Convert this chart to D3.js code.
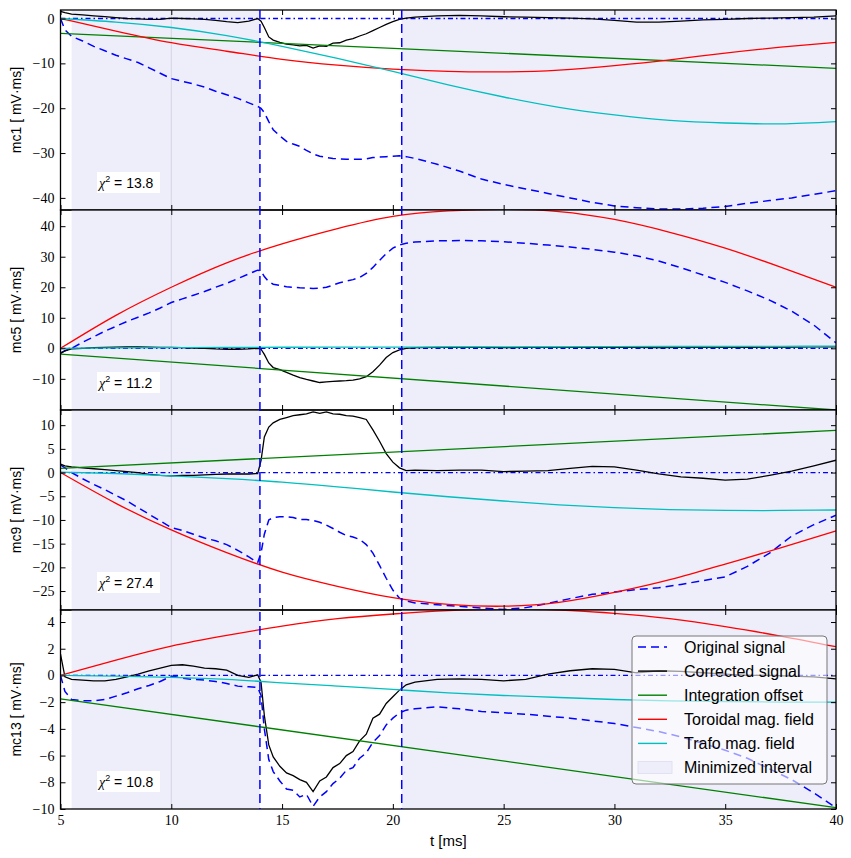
<!DOCTYPE html>
<html><head><meta charset="utf-8">
<script src="https://cdn.jsdelivr.net/npm/d3@7"></script>
<style>
html,body{margin:0;padding:0;background:#fff;}
svg{display:block;}
</style></head>
<body>
<svg id="chart" width="851" height="858"></svg>
<script>
// ---------------- DATA ----------------
const tSig = [5,5.2,5.5,6,6.5,7,7.5,8,8.5,9,9.5,10,10.5,11,11.5,12,12.5,13,13.5,13.9,14.05,14.2,14.4,14.6,14.9,15.2,15.5,15.8,16.1,16.4,16.7,17.0,17.3,17.6,17.9,18.2,18.5,18.8,19.1,19.4,19.7,20.0,20.3,20.6,21,22,23,24,25,26,27,28,29,30,31,32,33,34,35,36,37,38,39,40];
const tSmooth = [5,7.5,10,12.5,15,17.5,20,22.5,25,27.5,30,32.5,35,37.5,40];
const tOffset = [5,40];
const xTicks = [5,10,15,20,25,30,35,40];
const intervals = [[5.5,14.0],[20.4,40]];
const cutLines = [14.0,20.4];
const gridT = 10;

const mc1Orig = [0,-2.5,-4.0,-5.0,-6.2,-7.2,-8.2,-9.0,-9.8,-11.0,-12.2,-13.4,-14.0,-14.6,-15.3,-16.2,-17.0,-17.8,-18.8,-19.6,-20.0,-21.0,-23.0,-24.8,-26.2,-27.4,-28.0,-28.5,-29.4,-30.2,-30.7,-31.0,-31.2,-31.3,-31.4,-31.4,-31.4,-31.3,-31.0,-30.9,-30.8,-30.7,-30.6,-30.8,-31.2,-32.5,-34.0,-35.8,-37.0,-38.0,-39.0,-40.0,-41.0,-41.8,-42.2,-42.5,-42.5,-42.3,-41.9,-41.2,-40.6,-40.0,-39.2,-38.4];
const mc1Corr = [1.6,1.3,1.0,0.8,0.6,0.4,0.2,0.0,-0.1,-0.2,-0.2,0.1,0.0,-0.1,-0.2,-0.4,-0.7,-0.9,-0.6,0.0,-0.6,-2.0,-4.1,-4.8,-5.3,-5.7,-5.9,-6.1,-6.0,-6.6,-6.1,-6.2,-5.5,-5.4,-4.8,-4.5,-3.9,-3.4,-2.7,-2.0,-1.3,-0.7,-0.2,0.1,0.3,0.6,0.7,0.6,0.4,0.3,0.2,0.1,-0.1,-0.4,-0.8,-0.8,-0.6,-0.3,-0.2,0.0,0.1,0.2,0.3,0.6];
const mc1Tor = [0,-2.8,-5.4,-7.3,-9.1,-10.4,-11.3,-11.8,-11.9,-11.5,-10.5,-9.2,-7.7,-6.4,-5.3];
const mc1Trafo = [0,-0.8,-2.0,-3.8,-6.2,-8.9,-11.8,-14.8,-17.5,-19.8,-21.5,-22.7,-23.3,-23.5,-23.0];
const mc1Off = [-3.3,-11.1];

const mc5Orig = [-1.5,-0.8,0.0,2.0,3.8,5.6,7.2,8.8,10.2,11.6,13.2,15.0,16.2,17.4,18.6,20.0,21.3,22.8,24.4,25.6,25.4,23.5,21.8,21.0,20.6,20.2,20.0,19.8,19.7,19.6,19.7,20.0,20.7,21.5,22.0,22.5,23.2,24.5,26.5,28.8,31.0,32.8,33.9,34.4,34.8,35.2,35.3,35.2,34.9,34.4,33.8,33.2,32.4,31.5,30.3,28.6,26.4,24.0,21.6,18.8,15.8,12.2,7.6,1.8];
const mc5Corr = [-1.8,-0.8,-0.2,0.0,0.2,0.3,0.4,0.5,0.5,0.4,0.3,0.3,0.2,0.1,0.0,-0.2,-0.3,-0.3,-0.2,0.0,-0.3,-2.0,-4.8,-6.3,-7.0,-7.9,-8.8,-9.6,-10.2,-10.7,-11.2,-11.0,-10.8,-10.7,-10.6,-10.4,-10.0,-9.3,-7.7,-5.5,-3.0,-1.4,-0.5,0.0,0.2,0.3,0.3,0.3,0.2,0.3,0.3,0.3,0.4,0.3,0.3,0.2,0.3,0.3,0.4,0.3,0.4,0.4,0.5,0.5];
const mc5Tor = [0,10.8,20.0,28.0,34.2,39.2,43.2,45.0,45.5,44.8,42.2,38.0,32.8,26.6,20.0];
const mc5Trafo = [0,0.15,0.25,0.3,0.35,0.4,0.4,0.45,0.5,0.5,0.55,0.6,0.6,0.65,0.7];
const mc5Off = [-1.9,-20.2];

const mc9Orig = [1.6,1.0,0.0,-1.3,-2.5,-3.6,-4.8,-6.0,-7.4,-8.8,-10.2,-11.6,-12.2,-13.0,-13.8,-14.4,-15.2,-16.4,-17.8,-19.0,-17.0,-13.0,-10.0,-9.5,-9.3,-9.3,-9.5,-9.9,-9.9,-10.1,-10.5,-11.1,-11.8,-12.6,-13.3,-13.6,-14.1,-15.2,-17.0,-19.6,-22.3,-24.8,-26.5,-27.1,-27.5,-27.9,-28.2,-28.6,-28.9,-28.5,-27.6,-26.6,-25.7,-25.2,-24.7,-24.3,-23.6,-22.8,-22.0,-19.8,-17.0,-13.4,-11.0,-9.0];
const mc9Corr = [1.8,1.4,1.2,1.0,0.8,0.6,0.4,0.2,0.0,-0.4,-0.6,-0.7,-0.6,-0.6,-0.5,-0.4,-0.3,-0.3,-0.3,-0.2,2.5,7.5,9.6,10.5,11.2,11.6,12.0,12.2,12.4,12.8,12.5,12.8,12.4,12.3,12.0,11.9,11.6,11.2,9.0,6.6,4.0,2.2,1.0,0.4,0.5,0.4,0.5,0.5,0.2,0.3,0.4,0.9,1.3,1.2,0.5,-0.3,-0.9,-1.2,-1.6,-1.4,-0.6,0.3,1.4,2.6];
const mc9Tor = [0,-6.5,-12.1,-16.9,-21.0,-24.0,-26.4,-27.8,-28.2,-27.4,-25.3,-22.6,-19.3,-15.9,-12.3];
const mc9Trafo = [0.1,-0.2,-0.7,-1.3,-2.0,-3.0,-4.1,-5.1,-6.0,-6.8,-7.4,-7.8,-8.0,-8.0,-7.9];
const mc9Off = [0.9,8.9];

const mc13Orig = [0.0,-1.2,-1.8,-1.9,-1.9,-1.8,-1.55,-1.3,-1.0,-0.75,-0.45,-0.05,-0.2,-0.3,-0.35,-0.45,-0.6,-0.8,-0.85,-0.9,-1.5,-4.0,-6.3,-7.2,-7.9,-8.5,-8.6,-9.1,-8.9,-9.8,-9.1,-8.7,-8.1,-7.7,-7.1,-6.9,-6.2,-5.8,-5.0,-4.5,-3.7,-3.2,-2.8,-2.6,-2.5,-2.35,-2.5,-2.7,-2.8,-2.9,-3.05,-3.2,-3.4,-3.6,-3.9,-4.2,-4.6,-5.1,-5.6,-6.2,-7.0,-7.8,-8.8,-9.9];
const mc13Corr = [1.6,-0.1,-0.3,-0.35,-0.4,-0.4,-0.3,-0.1,0.1,0.35,0.55,0.75,0.8,0.7,0.55,0.5,0.4,0.0,-0.15,0.05,-0.5,-3.0,-5.2,-6.1,-6.8,-7.3,-7.5,-7.8,-8.0,-8.7,-7.9,-7.6,-6.9,-6.6,-6.0,-5.7,-4.9,-4.4,-3.2,-2.9,-2.1,-1.6,-1.1,-0.7,-0.5,-0.3,-0.25,-0.3,-0.4,-0.3,0.1,0.35,0.5,0.45,0.2,0.35,0.3,0.2,0.1,0.0,0.0,-0.05,-0.1,-0.25];
const mc13Tor = [0,1.15,2.2,3.0,3.7,4.25,4.6,4.85,4.95,4.9,4.65,4.25,3.65,2.95,2.15];
const mc13Trafo = [0,-0.05,-0.15,-0.3,-0.55,-0.8,-1.05,-1.3,-1.5,-1.65,-1.8,-1.9,-1.95,-2.0,-2.0];
const mc13Off = [-1.75,-9.9];

const panelNames = ["mc1","mc5","mc9","mc13"];
const chi2 = ["13.8","11.2","27.4","10.8"];
const yDomains = [[-42.7,1.9],[-20.2,45.3],[-29.0,13.2],[-10.0,4.9]];
const yTicks = [[-40,-30,-20,-10,0],[-10,0,10,20,30,40],[-25,-20,-15,-10,-5,0,5,10],[-10,-8,-6,-4,-2,0,2,4]];
const legendLabels = ["Original signal","Corrected signal","Integration offset","Toroidal mag. field","Trafo mag. field","Minimized interval"];

// ---------------- LAYOUT ----------------
const COL = {orig:"#0000ff", corr:"#000000", off:"#008000", tor:"#ff0000", trafo:"#00bfbf", span:"#eeeefb"};
const L = 60.5, R = 836;
const panelTops = [10,210,410,610], panelBots = [210,410,610,809];
const svg = d3.select("#chart");
const x = d3.scaleLinear().domain([5,40]).range([L,R]);
const serif = "'Liberation Serif', 'DejaVu Serif', serif";
const sans = "'Liberation Sans', Arial, sans-serif";

const series = [
  {orig:mc1Orig, corr:mc1Corr, tor:mc1Tor, trafo:mc1Trafo, off:mc1Off},
  {orig:mc5Orig, corr:mc5Corr, tor:mc5Tor, trafo:mc5Trafo, off:mc5Off},
  {orig:mc9Orig, corr:mc9Corr, tor:mc9Tor, trafo:mc9Trafo, off:mc9Off},
  {orig:mc13Orig, corr:mc13Corr, tor:mc13Tor, trafo:mc13Trafo, off:mc13Off}
];

const defs = svg.append("defs");

panelNames.forEach((name,i)=>{
  const top = panelTops[i], bot = panelBots[i];
  const y = d3.scaleLinear().domain(yDomains[i]).range([bot,top]);
  const g = svg.append("g");
  defs.append("clipPath").attr("id","clip"+i).append("rect")
    .attr("x",L).attr("y",top).attr("width",R-L).attr("height",bot-top);
  const pg = g.append("g").attr("clip-path",`url(#clip${i})`);

  intervals.forEach(iv=>{
    pg.append("rect").attr("x",x(iv[0])).attr("y",top).attr("width",x(iv[1])-x(iv[0])).attr("height",bot-top)
      .attr("fill",COL.span);
  });
  pg.append("line").attr("x1",x(gridT)).attr("x2",x(gridT)).attr("y1",top).attr("y2",bot)
    .attr("stroke","#d4d4e2").attr("stroke-width",1);

  const s = series[i];
  const lineSig = d3.line().x((d,k)=>x(tSig[k])).y(d=>y(d));
  const lineSm = d3.line().x((d,k)=>x(tSmooth[k])).y(d=>y(d)).curve(d3.curveNatural);
  const lineOff = d3.line().x((d,k)=>x(tOffset[k])).y(d=>y(d));

  pg.append("line").attr("x1",L).attr("x2",R).attr("y1",y(0)).attr("y2",y(0))
    .attr("stroke",COL.orig).attr("stroke-width",1.3).attr("stroke-dasharray","5,3,1.5,3");

  pg.append("path").datum(s.orig).attr("d",lineSig).attr("fill","none")
    .attr("stroke",COL.orig).attr("stroke-width",1.5).attr("stroke-dasharray","8,5");
  pg.append("path").datum(s.corr).attr("d",lineSig).attr("fill","none")
    .attr("stroke",COL.corr).attr("stroke-width",1.3);
  pg.append("path").datum(s.off).attr("d",lineOff).attr("fill","none")
    .attr("stroke",COL.off).attr("stroke-width",1.3);
  pg.append("path").datum(s.tor).attr("d",lineSm).attr("fill","none")
    .attr("stroke",COL.tor).attr("stroke-width",1.3);
  pg.append("path").datum(s.trafo).attr("d",lineSm).attr("fill","none")
    .attr("stroke",COL.trafo).attr("stroke-width",1.3);

  const yl = g.append("g").attr("transform",`translate(${L},0)`)
    .call(d3.axisLeft(y).tickValues(yTicks[i]).tickSize(-5).tickPadding(6));
  const yr = g.append("g").attr("transform",`translate(${R},0)`)
    .call(d3.axisRight(y).tickValues(yTicks[i]).tickSize(-5).tickFormat(""));
  const xt = g.append("g").attr("transform",`translate(0,${top})`)
    .call(d3.axisTop(x).tickValues(xTicks).tickSize(-5).tickFormat(""));
  const xb = g.append("g").attr("transform",`translate(0,${bot})`)
    .call(d3.axisBottom(x).tickValues(xTicks).tickSize(-5).tickPadding(6)
      .tickFormat(i===3 ? d3.format("d") : ""));
  [yl,yr,xt,xb].forEach(a=>{
    a.select(".domain").remove();
    a.selectAll(".tick line").attr("stroke","#000").attr("stroke-width",1);
    a.selectAll("text").attr("font-family",serif).attr("font-size",14).attr("fill","#000");
  });

  g.append("rect").attr("x",L).attr("y",top).attr("width",R-L).attr("height",bot-top)
    .attr("fill","none").attr("stroke","#000").attr("stroke-width",1.3);

  g.append("text").attr("transform",`translate(21,${(top+bot)/2}) rotate(-90)`)
    .attr("text-anchor","middle").attr("font-family",sans).attr("font-size",14)
    .text(name+" [ mV·ms]");

  g.append("rect").attr("x",97).attr("y",bot-38).attr("width",63).attr("height",21).attr("fill","#fff");
  const ct = g.append("text").attr("x",99).attr("y",bot-22.5).attr("font-size",14).attr("font-family",sans);
  ct.append("tspan").attr("font-family",serif).attr("font-style","italic").text("χ");
  ct.append("tspan").attr("font-size",9).attr("dy",-6).text("2");
  ct.append("tspan").attr("dy",6).text(" = "+chi2[i]);
});

cutLines.forEach(t=>{
  svg.append("line").attr("x1",x(t)).attr("x2",x(t)).attr("y1",panelTops[0]).attr("y2",panelBots[3])
    .attr("stroke",COL.orig).attr("stroke-width",1.5).attr("stroke-dasharray","9,5");
});

svg.append("text").attr("x",(L+R)/2).attr("y",846).attr("text-anchor","middle")
  .attr("font-family",sans).attr("font-size",15).text("t [ms]");

const lg = svg.append("g");
lg.append("rect").attr("x",632).attr("y",636).attr("width",195).attr("height",148).attr("rx",4)
  .attr("fill","rgba(255,255,255,0.6)").attr("stroke","#777").attr("stroke-width",1);
const legStyles = [
  {c:COL.orig,dash:"8,5"},{c:COL.corr},{c:COL.off},{c:COL.tor},{c:COL.trafo},{patch:true}
];
legendLabels.forEach((lab,k)=>{
  const yy = 647 + k*24.1;
  const st = legStyles[k];
  if(st.patch){
    lg.append("rect").attr("x",638).attr("y",yy-6).attr("width",34).attr("height",12)
      .attr("fill",COL.span).attr("stroke","#dcdcf0").attr("stroke-width",0.8);
  } else {
    lg.append("line").attr("x1",638).attr("x2",667).attr("y1",yy).attr("y2",yy)
      .attr("stroke",st.c).attr("stroke-width",1.4).attr("stroke-dasharray",st.dash||null);
  }
  lg.append("text").attr("x",684).attr("y",yy).attr("dy","0.35em")
    .attr("font-family",sans).attr("font-size",16).text(lab);
});
</script>
</body></html>
